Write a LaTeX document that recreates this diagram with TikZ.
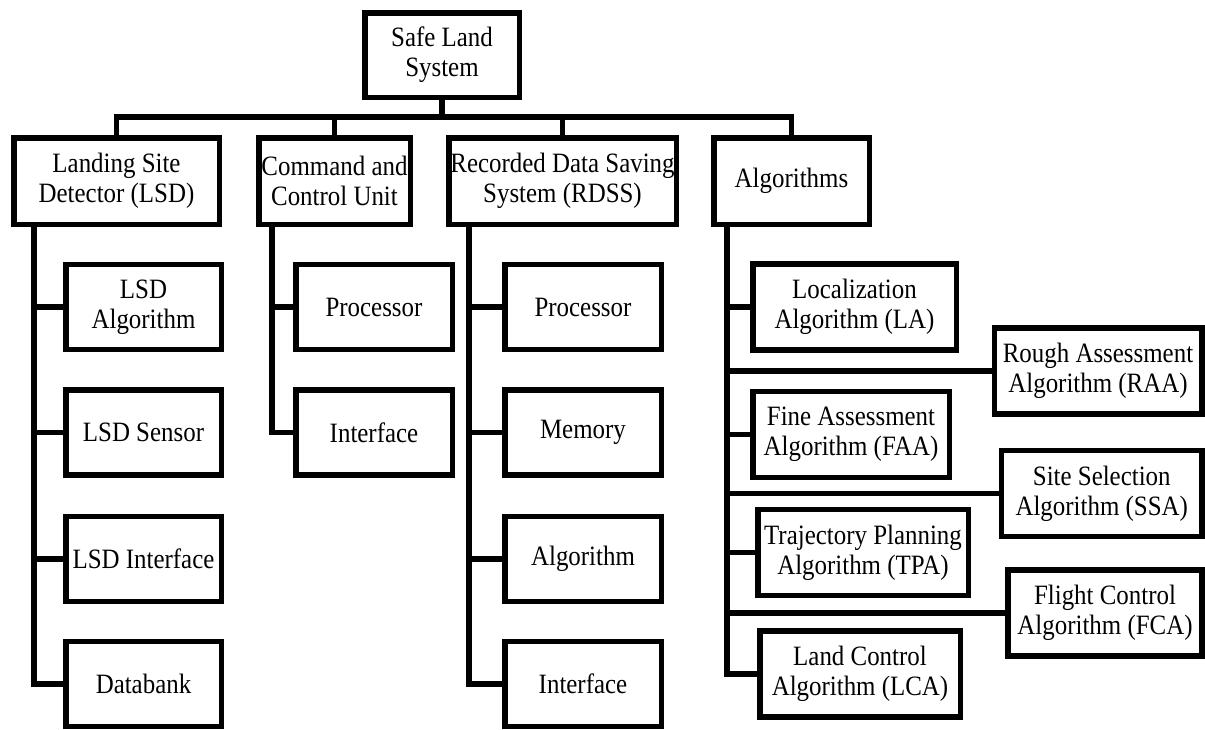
\documentclass[tikz,border=0pt]{standalone}
\usepackage{fontspec}
\setmainfont{Liberation Serif}[FakeStretch=0.89]
\usepackage{tikz}

\begin{document}
\begin{tikzpicture}[x=1pt,y=-1pt,line width=5.5pt,
    box/.style={shape=rectangle,draw=black,inner sep=0pt,align=center,font=\fontsize{28}{30}\selectfont},
    hv/.style={to path={-| (\tikztotarget)}},
    vh/.style={to path={|- (\tikztotarget)}}]
    \useasboundingbox (0,0) rectangle (1205,729);

    \node[box,minimum width=154.5,minimum height=84.5] (0) at (442,55) {Safe Land\\System};

    \node[box,minimum width=205.5,minimum height=86.5] (1) at (116.5,181) {Landing Site\\Detector (LSD)};
    \node[box,minimum width=151.5,minimum height=86.5] (2) at (334.5,181) {Command and\\Control Unit};
    \node[box,minimum width=227.5,minimum height=86.5] (3) at (562.5,181) {Recorded Data Saving\\System (RDSS)};
    \node[box,minimum width=155.5,minimum height=86.5] (4) at (791.5,181) {Algorithms};

    \node[box,minimum width=155.5,minimum height=85] (5) at (143.5,307) {LSD\\Algorithm};
    \node[box,minimum width=155.5,minimum height=85] (6) at (143.5,432.5) {LSD Sensor};
    \node[box,minimum width=155.5,minimum height=85] (7) at (143.5,559) {LSD Interface};
    \node[box,minimum width=155.5,minimum height=85] (8) at (143.5,684) {Databank};

    \node[box,minimum width=156.5,minimum height=85] (9) at (374,307) {Processor};
    \node[box,minimum width=156.5,minimum height=85] (10) at (374,432.5) {Interface};

    \node[box,minimum width=156.5,minimum height=85] (11) at (583,307) {Processor};
    \node[box,minimum width=156.5,minimum height=85] (12) at (583,432.5) {Memory};
    \node[box,minimum width=156.5,minimum height=85] (13) at (583,559) {Algorithm};
    \node[box,minimum width=156.5,minimum height=85] (14) at (583,684) {Interface};

    \node[box,minimum width=203.5,minimum height=86] (15) at (854.5,307) {Localization\\Algorithm (LA)};
    \node[box,minimum width=207.5,minimum height=86] (16) at (1098,371) {Rough Assessment\\Algorithm (RAA)};
    \node[box,minimum width=196.5,minimum height=86] (17) at (851,434.5) {Fine Assessment\\Algorithm (FAA)};
    \node[box,minimum width=200.5,minimum height=86] (18) at (1101.75,493.5) {Site Selection\\Algorithm (SSA)};
    \node[box,minimum width=210.5,minimum height=86] (19) at (863,552.5) {Trajectory Planning\\Algorithm (TPA)};
    \node[box,minimum width=194,minimum height=86] (20) at (1105,613) {Flight Control\\Algorithm (FCA)};
    \node[box,minimum width=200.5,minimum height=86] (21) at (860,674) {Land Control\\Algorithm (LCA)};

    \coordinate (b0) at (442,117);
    \coordinate (t1) at (34,0);
    \coordinate (t2) at (272,0);
    \coordinate (t3) at (469,0);
    \coordinate (t4) at (727,0);

    \path [-] (0) edge node {} (b0);
    \path [-] (b0) edge[hv] node {} (1);
    \path [-] (b0) edge[hv] node {} (2);
    \path [-] (b0) edge[hv] node {} (3);
    \path [-] (b0) edge[hv] node {} (4);

    \path [-] (1.south -| t1) edge[vh] node {} (5);
    \path [-] (1.south -| t1) edge[vh] node {} (6);
    \path [-] (1.south -| t1) edge[vh] node {} (7);
    \path [-] (1.south -| t1) edge[vh] node {} (8);

    \path [-] (2.south -| t2) edge[vh] node {} (9);
    \path [-] (2.south -| t2) edge[vh] node {} (10);

    \path [-] (3.south -| t3) edge[vh] node {} (11);
    \path [-] (3.south -| t3) edge[vh] node {} (12);
    \path [-] (3.south -| t3) edge[vh] node {} (13);
    \path [-] (3.south -| t3) edge[vh] node {} (14);

    \path [-] (4.south -| t4) edge[vh] node {} (15);
    \path [-] (4.south -| t4) edge[vh] node {} (16);
    \path [-] (4.south -| t4) edge[vh] node {} (17);
    \path [-] (4.south -| t4) edge[vh] node {} (18);
    \path [-] (4.south -| t4) edge[vh] node {} (19);
    \path [-] (4.south -| t4) edge[vh] node {} (20);
    \path [-] (4.south -| t4) edge[vh] node {} (21);
\end{tikzpicture}
\end{document}
